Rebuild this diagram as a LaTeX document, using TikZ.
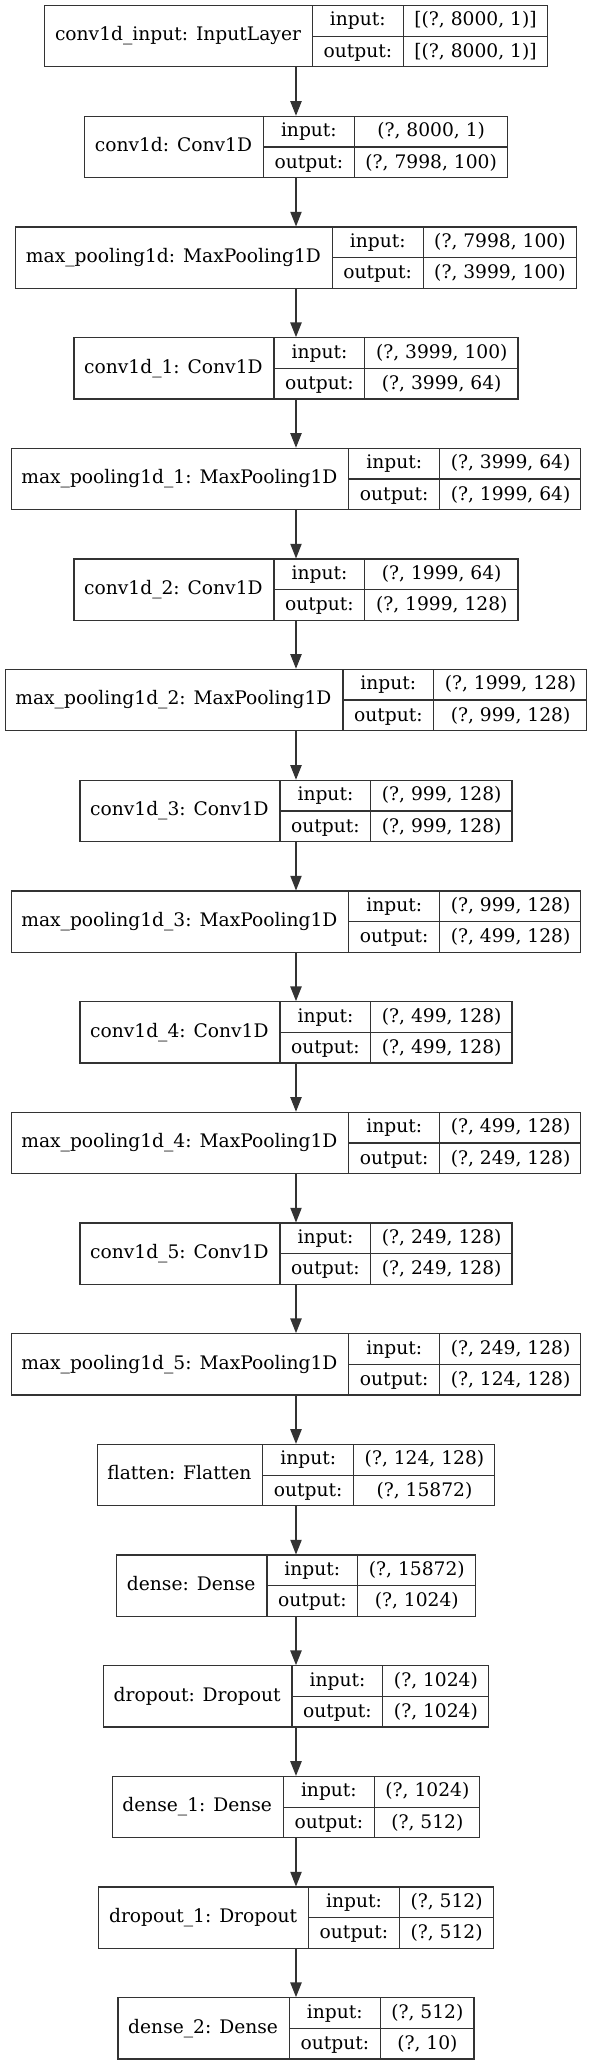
\documentclass[tikz,border=0pt]{standalone}
\usepackage{fontspec}
\setmainfont{DejaVu Serif}
\usepackage{colortbl}
\usetikzlibrary{arrows.meta}

\setlength{\tabcolsep}{7.9pt}
\setlength{\arrayrulewidth}{0.9pt}
\arrayrulecolor{black!80}
\newcommand{\rowstrut}{\rule[-7.2pt]{0pt}{22.55pt}}
% nom (place vide) | input/output | formes
\newcommand{\layerrec}[3]{%
  \begin{tabular}{c|@{}c@{}}
    \phantom{#1} &
    \begin{tabular}{c|c}
      \rowstrut input: & #2 \\ \hline
      \rowstrut output: & #3
    \end{tabular}
  \end{tabular}}
% une couche : cadre + nom centre dans la premiere case
\newcommand{\layerbox}[5]{%
  \node[layer] (#1) at (\cx,#2) {\layerrec{#3}{#4}{#5}};
  \node[layername] (#1name) at (#1.west) {#3};}

\begin{document}
\begin{tikzpicture}[x=0.75pt,y=-0.75pt,
  layer/.style={draw=black!80, line width=0.9pt, inner sep=0pt,
    font=\fontsize{14pt}{17pt}\selectfont},
  layername/.style={anchor=west, inner ysep=0pt, inner xsep=\tabcolsep,
    text height=10.6pt, text depth=3.4pt,
    font=\fontsize{14pt}{17pt}\selectfont},
  flow/.style={draw=black!80, line width=0.9pt,
    -{Triangle[length=11pt,width=8.5pt]}}]

  %--- Cadre ---
  \useasboundingbox (0,0) rectangle (592,2065);
  \def\cx{296}

  %--- Couches ---
  \layerbox{inp}{36.2}{conv1d\_input: InputLayer}{[(?, 8000, 1)]}{[(?, 8000, 1)]}
  \layerbox{conv0}{147.0}{conv1d: Conv1D}{(?, 8000, 1)}{(?, 7998, 100)}
  \layerbox{pool0}{257.7}{max\_pooling1d: MaxPooling1D}{(?, 7998, 100)}{(?, 3999, 100)}
  \layerbox{conv1}{368.4}{conv1d\_1: Conv1D}{(?, 3999, 100)}{(?, 3999, 64)}
  \layerbox{pool1}{479.0}{max\_pooling1d\_1: MaxPooling1D}{(?, 3999, 64)}{(?, 1999, 64)}
  \layerbox{conv2}{589.7}{conv1d\_2: Conv1D}{(?, 1999, 64)}{(?, 1999, 128)}
  \layerbox{pool2}{700.0}{max\_pooling1d\_2: MaxPooling1D}{(?, 1999, 128)}{(?, 999, 128)}
  \layerbox{conv3}{811.0}{conv1d\_3: Conv1D}{(?, 999, 128)}{(?, 999, 128)}
  \layerbox{pool3}{921.7}{max\_pooling1d\_3: MaxPooling1D}{(?, 999, 128)}{(?, 499, 128)}
  \layerbox{conv4}{1032.4}{conv1d\_4: Conv1D}{(?, 499, 128)}{(?, 499, 128)}
  \layerbox{pool4}{1143.0}{max\_pooling1d\_4: MaxPooling1D}{(?, 499, 128)}{(?, 249, 128)}
  \layerbox{conv5}{1253.7}{conv1d\_5: Conv1D}{(?, 249, 128)}{(?, 249, 128)}
  \layerbox{pool5}{1364.4}{max\_pooling1d\_5: MaxPooling1D}{(?, 249, 128)}{(?, 124, 128)}
  \layerbox{flat}{1475.1}{flatten: Flatten}{(?, 124, 128)}{(?, 15872)}
  \layerbox{dns0}{1585.7}{dense: Dense}{(?, 15872)}{(?, 1024)}
  \layerbox{drop0}{1696.4}{dropout: Dropout}{(?, 1024)}{(?, 1024)}
  \layerbox{dns1}{1807.1}{dense\_1: Dense}{(?, 1024)}{(?, 512)}
  \layerbox{drop1}{1917.7}{dropout\_1: Dropout}{(?, 512)}{(?, 512)}
  \layerbox{dns2}{2028.4}{dense\_2: Dense}{(?, 512)}{(?, 10)}

  %--- Flèches ---
  \draw[flow] (inp)   -- (conv0);
  \draw[flow] (conv0) -- (pool0);
  \draw[flow] (pool0) -- (conv1);
  \draw[flow] (conv1) -- (pool1);
  \draw[flow] (pool1) -- (conv2);
  \draw[flow] (conv2) -- (pool2);
  \draw[flow] (pool2) -- (conv3);
  \draw[flow] (conv3) -- (pool3);
  \draw[flow] (pool3) -- (conv4);
  \draw[flow] (conv4) -- (pool4);
  \draw[flow] (pool4) -- (conv5);
  \draw[flow] (conv5) -- (pool5);
  \draw[flow] (pool5) -- (flat);
  \draw[flow] (flat)  -- (dns0);
  \draw[flow] (dns0)  -- (drop0);
  \draw[flow] (drop0) -- (dns1);
  \draw[flow] (dns1)  -- (drop1);
  \draw[flow] (drop1) -- (dns2);

\end{tikzpicture}
\end{document}
